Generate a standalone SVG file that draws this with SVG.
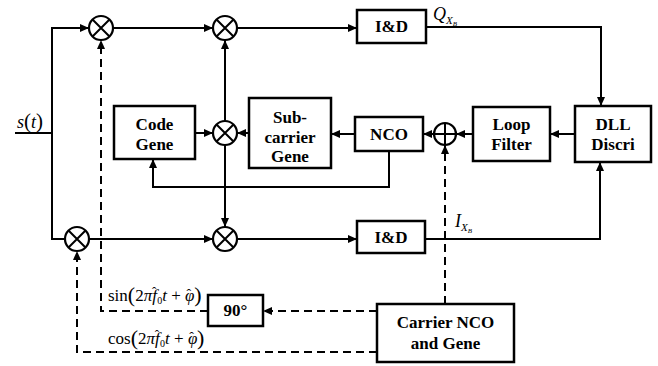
<svg xmlns="http://www.w3.org/2000/svg" width="658" height="366" viewBox="0 0 658 366">
<defs>
<marker id="ah" markerUnits="userSpaceOnUse" markerWidth="9" markerHeight="8" refX="9" refY="4" orient="auto">
<path d="M0,0 L9,4 L0,8 z" fill="#000"/>
</marker>
</defs>
<style>
.box{fill:#fff;stroke:#000;stroke-width:2.5}
.mix{fill:#fff;stroke:#000;stroke-width:2.2}
.ln{fill:none;stroke:#000;stroke-width:2}
.da{fill:none;stroke:#000;stroke-width:2;stroke-dasharray:8,5}
.lbl{font-family:"Liberation Serif",serif;font-weight:bold;font-size:17px;text-anchor:middle}
.math{font-family:"Liberation Serif",serif;font-size:17px}
.it{font-style:italic}
</style>
<rect width="658" height="366" fill="#fff"/>
<g id="connectors">
<path class="ln" d="M15,133 H52"/>
<path class="ln" d="M65,239 H52 V28 H89" marker-end="url(#ah)"/>
<path class="ln" d="M113,28 H213" marker-end="url(#ah)"/>
<path class="ln" d="M237,28 H357" marker-end="url(#ah)"/>
<path class="ln" d="M426,27 H601 V106" marker-end="url(#ah)"/>
<path class="ln" d="M89,239 H213" marker-end="url(#ah)"/>
<path class="ln" d="M237,239 H357" marker-end="url(#ah)"/>
<path class="ln" d="M425,239 H600 V162" marker-end="url(#ah)"/>
<path class="ln" d="M225,121 V40" marker-end="url(#ah)"/>
<path class="ln" d="M225,145 V227" marker-end="url(#ah)"/>
<path class="ln" d="M195,133 H213" marker-end="url(#ah)"/>
<path class="ln" d="M249,133 H237" marker-end="url(#ah)"/>
<path class="ln" d="M355,134 H331" marker-end="url(#ah)"/>
<path class="ln" d="M434,134 H423" marker-end="url(#ah)"/>
<path class="ln" d="M473,134 H456" marker-end="url(#ah)"/>
<path class="ln" d="M575,134 H550" marker-end="url(#ah)"/>
<path class="ln" d="M389,151 V187 H153 V159" marker-end="url(#ah)"/>
<path class="da" d="M445,304 V145" marker-end="url(#ah)"/>
<path class="da" d="M377,311 H263" marker-end="url(#ah)"/>
<path class="da" d="M208,311 H101 V40" marker-end="url(#ah)"/>
<path class="da" d="M377,352 H77 V251" marker-end="url(#ah)"/>
</g>
<g id="mixer-top1"><circle class="mix" cx="101" cy="28" r="12"/><path class="ln" d="M92.5,19.5 L109.5,36.5 M109.5,19.5 L92.5,36.5"/></g>
<g id="mixer-top2"><circle class="mix" cx="225" cy="28" r="12"/><path class="ln" d="M216.5,19.5 L233.5,36.5 M233.5,19.5 L216.5,36.5"/></g>
<g id="mixer-mid"><circle class="mix" cx="225" cy="133" r="12"/><path class="ln" d="M216.5,124.5 L233.5,141.5 M233.5,124.5 L216.5,141.5"/></g>
<g id="mixer-bot1"><circle class="mix" cx="77" cy="239" r="12"/><path class="ln" d="M68.5,230.5 L85.5,247.5 M85.5,230.5 L68.5,247.5"/></g>
<g id="mixer-bot2"><circle class="mix" cx="225" cy="239" r="12"/><path class="ln" d="M216.5,230.5 L233.5,247.5 M233.5,230.5 L216.5,247.5"/></g>
<g id="sum"><circle class="mix" cx="445" cy="134" r="11"/><path class="ln" d="M434,134 H456 M445,123 V145"/></g>
<g id="code-gene"><rect class="box" x="114" y="106" width="81" height="53"/><text class="lbl" x="154.5" y="130">Code</text><text class="lbl" x="154.5" y="150">Gene</text></g>
<g id="subcarrier"><rect class="box" x="249" y="98" width="82" height="70"/><text class="lbl" x="290" y="123">Sub-</text><text class="lbl" x="290" y="143">carrier</text><text class="lbl" x="290" y="162">Gene</text></g>
<g id="nco"><rect class="box" x="355" y="117" width="68" height="34"/><text class="lbl" x="389" y="140">NCO</text></g>
<g id="loop-filter"><rect class="box" x="473" y="107" width="77" height="54"/><text class="lbl" x="511.5" y="130">Loop</text><text class="lbl" x="511.5" y="150">Filter</text></g>
<g id="dll"><rect class="box" x="575" y="106" width="76" height="56"/><text class="lbl" x="613" y="130">DLL</text><text class="lbl" x="613" y="150">Discri</text></g>
<g id="id-top"><rect class="box" x="357" y="10" width="69" height="33"/><text class="lbl" x="391.5" y="32">I&amp;D</text></g>
<g id="id-bot"><rect class="box" x="357" y="221" width="68" height="32"/><text class="lbl" x="391" y="243">I&amp;D</text></g>
<g id="ninety"><rect class="box" x="208" y="295" width="55" height="31"/><text class="lbl" x="235.5" y="316">90°</text></g>
<g id="carrier"><rect class="box" x="377" y="304" width="137" height="58"/><text class="lbl" x="445.5" y="328">Carrier NCO</text><text class="lbl" x="445.5" y="349">and Gene</text></g>
<g id="labels">
<text class="math" x="17" y="128"><tspan class="it" font-size="18">s</tspan><tspan font-size="21">(</tspan><tspan class="it" font-size="18">t</tspan><tspan font-size="21">)</tspan></text>
<text class="math" x="433" y="20"><tspan class="it" font-size="18">Q</tspan><tspan class="it" font-size="11" dy="4">X</tspan><tspan class="it" font-size="7" dy="2">B</tspan></text>
<text class="math" x="455" y="227"><tspan class="it" font-size="18">I</tspan><tspan class="it" font-size="11" dy="4">X</tspan><tspan class="it" font-size="7" dy="2">B</tspan></text>
<text class="math" x="108" y="301">sin<tspan font-size="22" dy="1">(</tspan><tspan dy="-1">2</tspan><tspan class="it">πf</tspan><tspan font-size="13" dx="-5" dy="-5">ˆ</tspan><tspan font-size="10" dx="1" dy="8">0</tspan><tspan class="it" dy="-3">t</tspan> + <tspan class="it">φ</tspan><tspan font-size="14" dx="-8" dy="-2">ˆ</tspan><tspan font-size="22" dx="3" dy="3">)</tspan></text>
<text class="math" x="108" y="344">cos<tspan font-size="22" dy="1">(</tspan><tspan dy="-1">2</tspan><tspan class="it">πf</tspan><tspan font-size="13" dx="-5" dy="-5">ˆ</tspan><tspan font-size="10" dx="1" dy="8">0</tspan><tspan class="it" dy="-3">t</tspan> + <tspan class="it">φ</tspan><tspan font-size="14" dx="-8" dy="-2">ˆ</tspan><tspan font-size="22" dx="3" dy="3">)</tspan></text>
</g>
</svg>
